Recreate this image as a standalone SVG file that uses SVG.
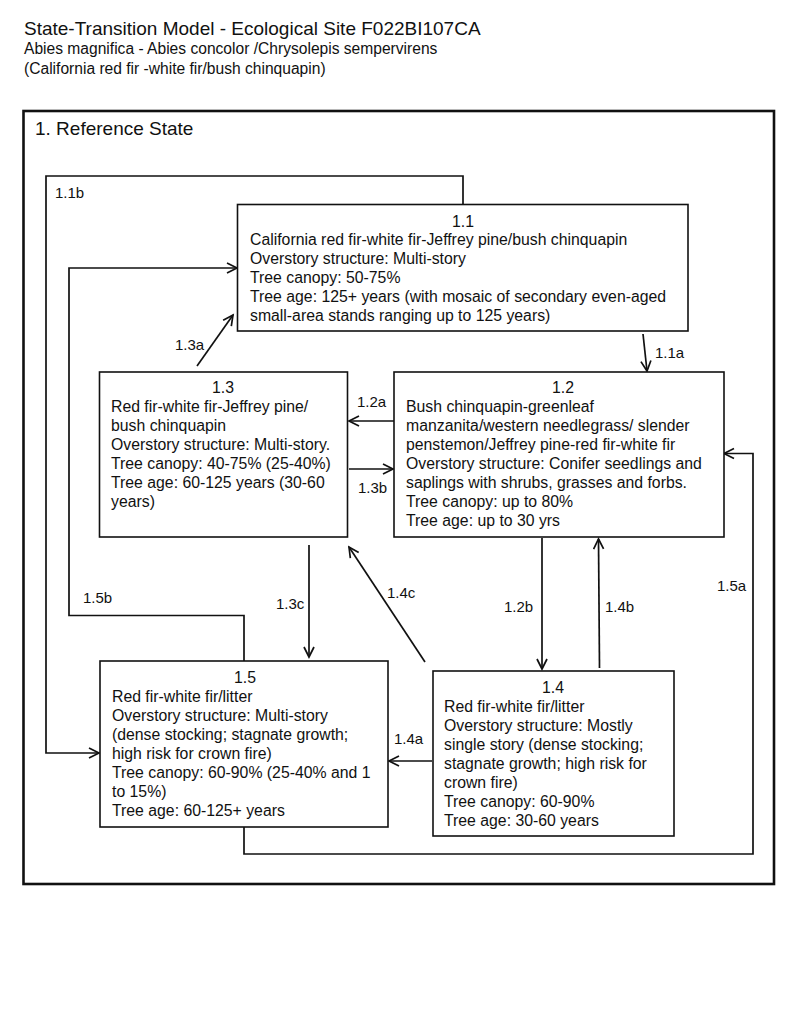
<svg xmlns="http://www.w3.org/2000/svg" width="800" height="1028" viewBox="0 0 800 1028">
<style>
text { font-family: "Liberation Sans", Arial, sans-serif; fill: #111; }
.title { font-size: 19px; }
.sub { font-size: 15.6px; }
.state { font-size: 19px; }
.node text { font-size: 15.8px; }
.node .hd { text-anchor: middle; }
.node rect { fill: #fff; stroke: #111; stroke-width: 1.6; }
.lbl { font-size: 15px; }
.conn path { fill: none; stroke: #111; stroke-width: 1.7; }
</style>
<defs>
<marker id="arr" markerUnits="userSpaceOnUse" markerWidth="14" markerHeight="14" refX="11" refY="6" orient="auto">
<path d="M1,1 L11,6 L1,11" fill="none" stroke="#111" stroke-width="1.7"/>
</marker>
</defs>
<rect width="800" height="1028" fill="#fff"/>
<text class="title" x="24" y="35">State-Transition Model - Ecological Site F022BI107CA</text>
<text class="sub" x="24" y="54">Abies magnifica - Abies concolor /Chrysolepis sempervirens</text>
<text class="sub" x="24" y="74">(California red fir -white fir/bush chinquapin)</text>
<g id="state1">
<rect x="23.5" y="111" width="750.5" height="773" fill="none" stroke="#111" stroke-width="2.6"/>
<text class="state" x="35" y="135">1. Reference State</text>
</g>
<g id="connectors" class="conn">
<path d="M463,204 V176 H46 V753 H99" marker-end="url(#arr)"/>
<path d="M244,661 V615.5 H69 V268 H237" marker-end="url(#arr)"/>
<path d="M244,827 V854 H753 V453.5 H724" marker-end="url(#arr)"/>
<path d="M197,366 L233,315" marker-end="url(#arr)"/>
<path d="M643,334 L647,371" marker-end="url(#arr)"/>
<path d="M394,421 L349,421" marker-end="url(#arr)"/>
<path d="M349,469 L393,469" marker-end="url(#arr)"/>
<path d="M309,545 L309,657" marker-end="url(#arr)"/>
<path d="M425,662 L349,547" marker-end="url(#arr)"/>
<path d="M542,538 L542,669" marker-end="url(#arr)"/>
<path d="M599.5,668 L598.5,539" marker-end="url(#arr)"/>
<path d="M432,761 L389,761" marker-end="url(#arr)"/>
</g>
<g id="labels">
<text class="lbl" x="55" y="198">1.1b</text>
<text class="lbl" x="83" y="603">1.5b</text>
<text class="lbl" x="717" y="591">1.5a</text>
<text class="lbl" x="175" y="350">1.3a</text>
<text class="lbl" x="655" y="358">1.1a</text>
<text class="lbl" x="357" y="407">1.2a</text>
<text class="lbl" x="358" y="493">1.3b</text>
<text class="lbl" x="276" y="609">1.3c</text>
<text class="lbl" x="387" y="598">1.4c</text>
<text class="lbl" x="504" y="612">1.2b</text>
<text class="lbl" x="605" y="612">1.4b</text>
<text class="lbl" x="394" y="744">1.4a</text>
</g>
<g id="node-1-1" class="node">
<rect x="237.5" y="204.5" width="450.5" height="126.5"/>
<text class="hd" x="463" y="227">1.1</text>
<text x="250" y="245">California red fir-white fir-Jeffrey pine/bush chinquapin</text>
<text x="250" y="264">Overstory structure: Multi-story</text>
<text x="250" y="283">Tree canopy: 50-75%</text>
<text x="250" y="302">Tree age: 125+ years (with mosaic of secondary even-aged</text>
<text x="250" y="321">small-area stands ranging up to 125 years)</text>
</g>
<g id="node-1-2" class="node">
<rect x="394" y="372" width="330" height="165"/>
<text class="hd" x="563" y="393">1.2</text>
<text x="406" y="412">Bush chinquapin-greenleaf</text>
<text x="406" y="431">manzanita/western needlegrass/ slender</text>
<text x="406" y="450">penstemon/Jeffrey pine-red fir-white fir</text>
<text x="406" y="469">Overstory structure: Conifer seedlings and</text>
<text x="406" y="488">saplings with shrubs, grasses and forbs.</text>
<text x="406" y="507">Tree canopy: up to 80%</text>
<text x="406" y="526">Tree age: up to 30 yrs</text>
</g>
<g id="node-1-3" class="node">
<rect x="99.5" y="372" width="248" height="165"/>
<text class="hd" x="223" y="393">1.3</text>
<text x="111" y="412">Red fir-white fir-Jeffrey pine/</text>
<text x="111" y="431">bush chinquapin</text>
<text x="111" y="450">Overstory structure: Multi-story.</text>
<text x="111" y="469">Tree canopy: 40-75% (25-40%)</text>
<text x="111" y="488">Tree age: 60-125 years (30-60</text>
<text x="111" y="507">years)</text>
</g>
<g id="node-1-5" class="node">
<rect x="100" y="661" width="288" height="166"/>
<text class="hd" x="245" y="683">1.5</text>
<text x="112" y="702">Red fir-white fir/litter</text>
<text x="112" y="721">Overstory structure: Multi-story</text>
<text x="112" y="740">(dense stocking; stagnate growth;</text>
<text x="112" y="759">high risk for crown fire)</text>
<text x="112" y="778">Tree canopy: 60-90% (25-40% and 1</text>
<text x="112" y="797">to 15%)</text>
<text x="112" y="816">Tree age: 60-125+ years</text>
</g>
<g id="node-1-4" class="node">
<rect x="433" y="671" width="241" height="165"/>
<text class="hd" x="553" y="693">1.4</text>
<text x="444" y="712">Red fir-white fir/litter</text>
<text x="444" y="731">Overstory structure: Mostly</text>
<text x="444" y="750">single story (dense stocking;</text>
<text x="444" y="769">stagnate growth; high risk for</text>
<text x="444" y="788">crown fire)</text>
<text x="444" y="807">Tree canopy: 60-90%</text>
<text x="444" y="826">Tree age: 30-60 years</text>
</g>
</svg>
